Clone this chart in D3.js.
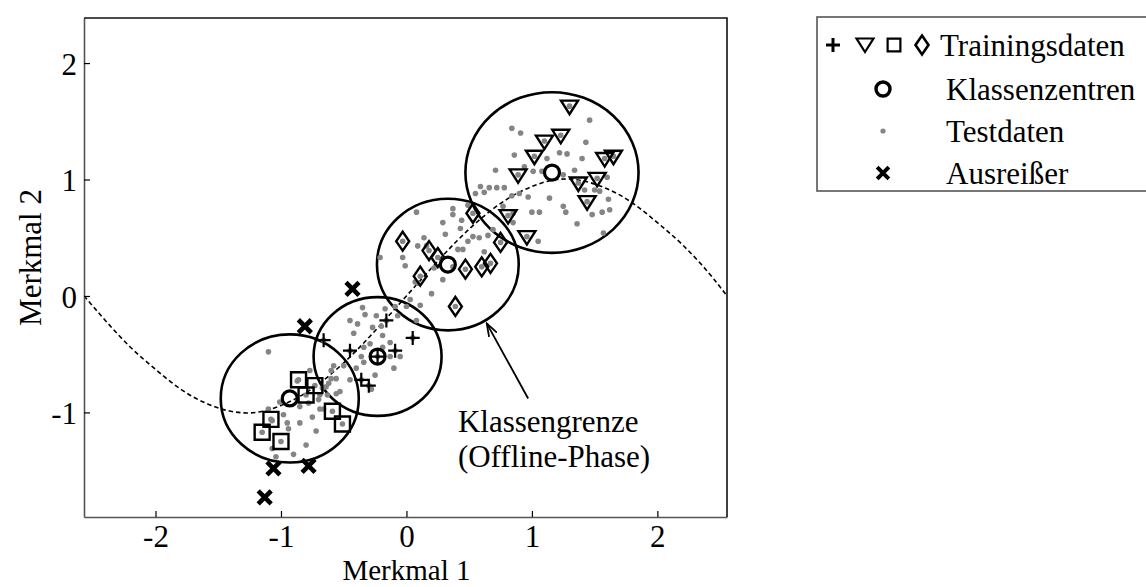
<!DOCTYPE html>
<html>
<head>
<meta charset="utf-8">
<script src="https://cdn.jsdelivr.net/npm/d3@7"></script>
<style>
  body { margin: 0; background: #fff; }
  svg { display: block; font-family: "Liberation Serif", "Times New Roman", serif; }
</style>
</head>
<body>
<svg id="chart" width="1146" height="587"></svg>
<script>
const xTicks = [-2, -1, 0, 1, 2];
const yTicks = [-1, 0, 1, 2];
const xLabel = "Merkmal 1";
const yLabel = "Merkmal 2";
const legendLabels = ["Trainingsdaten", "Klassenzentren", "Testdaten", "Ausreißer"];
const annotation = ["Klassengrenze", "(Offline-Phase)"];

// class boundary (offline phase)
const boundary = [
  [-2.57, 0], [-2.4, -0.21], [-2.2, -0.44], [-2.0, -0.63], [-1.8, -0.80], [-1.6, -0.92],
  [-1.4, -0.99], [-1.2, -1.00], [-1.0, -0.94], [-0.8, -0.83], [-0.6, -0.67], [-0.4, -0.47],
  [-0.2, -0.24], [0, 0], [0.2, 0.24], [0.4, 0.47], [0.6, 0.67], [0.8, 0.83], [1.0, 0.94],
  [1.2, 1.00], [1.4, 0.99], [1.6, 0.92], [1.8, 0.80], [2.0, 0.63], [2.2, 0.44], [2.4, 0.21], [2.555, 0]
];

const centers = [[-0.93, -0.88], [-0.23, -0.52], [0.33, 0.27], [1.16, 1.06]];
const radii = [0.55, 0.51, 0.565, 0.69];

const squares = [[-0.86, -0.72], [-0.73, -0.77], [-0.80, -0.85], [-0.59, -0.99], [-0.51, -1.10],
  [-1.08, -1.06], [-1.15, -1.17], [-1.00, -1.25]];
const crosses = [[-0.16, -0.21], [0.05, -0.36], [-0.66, -0.38], [-0.45, -0.47], [-0.09, -0.47],
  [-0.36, -0.72], [-0.30, -0.77], [-0.23, -0.52]];
const diamonds = [[-0.03, 0.47], [0.53, 0.71], [0.75, 0.46], [0.18, 0.39], [0.25, 0.33], [0.11, 0.17],
  [0.47, 0.23], [0.60, 0.25], [0.67, 0.28], [0.39, -0.09]];
const triangles = [[1.30, 1.63], [1.23, 1.38], [1.10, 1.33], [1.02, 1.20], [0.89, 1.04], [1.58, 1.18],
  [1.65, 1.20], [1.37, 0.97], [1.52, 1.01], [1.44, 0.81], [0.81, 0.69], [0.96, 0.51]];
const outliers = [[-0.81, -0.26], [-0.43, 0.06], [-1.06, -1.48], [-0.78, -1.46], [-1.13, -1.73]];

const testData = [
  [-1.10, -0.48], [-0.77, -0.64], [-0.87, -0.73], [-1.01, -0.91], [-0.98, -1.02], [-0.95, -1.09],
  [-0.94, -1.14], [-0.85, -1.09], [-0.75, -1.04], [-0.69, -0.97], [-0.70, -0.89], [-0.62, -0.75],
  [-0.60, -0.71], [-0.56, -0.71], [-0.56, -0.84], [-0.53, -0.82], [-0.60, -0.64], [-0.66, -0.97],
  [-1.10, -0.97], [-1.07, -1.31], [-1.04, -1.38], [-0.90, -1.36], [-0.80, -1.28], [-1.07, -1.07],
  [-0.85, -0.95], [-0.78, -0.92], [-0.63, -0.85], [-0.67, -0.79], [-0.58, -0.60], [-0.72, -1.16],
  [-0.35, -0.10], [-0.17, -0.11], [-0.45, -0.21], [-0.39, -0.24], [-0.33, -0.16], [-0.27, -0.27],
  [-0.42, -0.32], [-0.19, -0.34], [-0.13, -0.40], [-0.24, -0.17], [-0.20, -0.26], [-0.07, -0.17],
  [0.00, -0.09], [-0.29, -0.41], [-0.34, -0.44], [-0.19, -0.44], [-0.36, -0.52], [-0.34, -0.57],
  [-0.13, -0.52], [-0.05, -0.52], [-0.25, -0.68], [-0.64, -0.78], [-0.69, -0.85], [-0.50, -0.60],
  [-0.45, -0.72], [-0.40, -0.62], [-0.10, -0.62], [-0.28, -0.80],
  [0.09, 0.11], [0.20, 0.02], [0.11, -0.08], [-0.09, -0.09], [0.08, -0.21],
  [0.08, 0.72], [0.37, 0.75], [0.37, 0.70], [0.44, 0.65], [0.29, 0.63], [0.43, 0.58], [0.31, 0.53],
  [0.53, 0.51], [0.49, 0.47], [0.58, 0.50], [0.65, 0.52], [0.14, 0.50], [0.09, 0.43], [0.16, 0.43],
  [0.41, 0.40], [0.45, 0.40], [-0.21, 0.33], [-0.03, 0.33], [-0.01, 0.26], [0.37, 0.25], [0.07, 0.12],
  [0.29, 0.14], [0.03, -0.03], [0.22, 0.24], [0.62, 0.38],
  [0.84, 1.44], [0.91, 1.40], [1.46, 1.51], [1.43, 1.32], [0.86, 1.21], [1.12, 1.18], [1.22, 1.23],
  [1.28, 1.22], [1.40, 1.18], [0.94, 1.11], [1.01, 1.07], [1.08, 1.07], [0.71, 1.08], [1.34, 1.08],
  [1.25, 1.04], [1.60, 1.02], [0.59, 0.94], [0.66, 0.93], [0.72, 0.93], [0.78, 0.93], [0.55, 0.88],
  [0.62, 0.89], [0.90, 0.88], [0.97, 0.85], [0.84, 0.86], [1.14, 0.84], [1.50, 0.91], [1.42, 0.91],
  [1.54, 0.90], [1.25, 0.77], [1.27, 0.72], [0.77, 0.77], [1.00, 0.72], [1.06, 0.72], [1.48, 0.70],
  [1.56, 0.72], [1.62, 0.74], [1.61, 0.83], [1.36, 0.62], [1.05, 0.47], [0.49, 0.78], [0.69, 0.57],
  [1.57, 0.54], [0.85, 0.71], [0.85, 0.63]
];

const arrowFrom = [0.97, -0.88];
const arrowTo = [0.64, -0.235];
const annotationAt = [0.41, -1.17];

const margin = { left: 84, top: 18, right: 727, bottom: 517 };
const fontSize = 31;
const gray = "#858585";

const svg = d3.select("#chart");

const xScale = d3.scaleLinear()
                 .domain([-2.57, 2.555])
                 .range([margin.left, margin.right]);
const yScale = d3.scaleLinear()
                 .domain([-1.898, 2.387])
                 .range([margin.bottom, margin.top]);

const symbols = {
  square: "M-7.5,-7.5H7.5V7.5H-7.5Z",
  triangle: "M-8.5,-5.5H8.5L0,8Z",
  diamond: "M0,-9.5L6.5,0L0,9.5L-6.5,0Z",
  plus: "M-7,0H7M0,-7V7",
  cross: "M-6.5,-6.5L6.5,6.5M6.5,-6.5L-6.5,6.5"
};

svg.append("defs").append("clipPath").attr("id", "plot-clip")
   .append("rect")
   .attr("x", margin.left).attr("y", margin.top)
   .attr("width", margin.right - margin.left)
   .attr("height", margin.bottom - margin.top);

svg.select("defs").append("marker")
   .attr("id", "arrow")
   .attr("viewBox", "0 0 14 10")
   .attr("refX", 13).attr("refY", 5)
   .attr("markerWidth", 14).attr("markerHeight", 10)
   .attr("markerUnits", "userSpaceOnUse")
   .attr("orient", "auto")
   .append("path")
   .attr("d", "M0,0.5L13,5L0,9.5")
   .attr("fill", "none")
   .attr("stroke", "#000")
   .attr("stroke-width", 1.8);

const plot = svg.append("g").attr("clip-path", "url(#plot-clip)");

const line = d3.line()
               .x(d => xScale(d[0]))
               .y(d => yScale(d[1]))
               .curve(d3.curveNatural);

plot.append("path")
    .attr("d", line(boundary))
    .attr("fill", "none")
    .attr("stroke", "#000")
    .attr("stroke-width", 1.6)
    .attr("stroke-dasharray", "4.5,3");

plot.selectAll("ellipse.zone")
    .data(centers)
    .enter()
    .append("ellipse")
      .attr("class", "zone")
      .attr("cx", d => xScale(d[0]))
      .attr("cy", d => yScale(d[1]))
      .attr("rx", (d, i) => xScale(d[0] + radii[i]) - xScale(d[0]))
      .attr("ry", (d, i) => yScale(d[1]) - yScale(d[1] + radii[i]))
      .attr("fill", "none")
      .attr("stroke", "#000")
      .attr("stroke-width", 2.6);

const allTraining = squares.concat(crosses, diamonds, triangles);

plot.selectAll("circle.test")
    .data(testData.concat(allTraining))
    .enter()
    .append("circle")
      .attr("class", "test")
      .attr("cx", d => xScale(d[0]))
      .attr("cy", d => yScale(d[1]))
      .attr("r", 2.8)
      .attr("fill", gray);

const drawMarkers = (data, shape, width) => {
  plot.append("g")
      .selectAll("path")
      .data(data)
      .enter()
      .append("path")
        .attr("transform", d => `translate(${xScale(d[0])},${yScale(d[1])})`)
        .attr("d", symbols[shape])
        .attr("fill", "none")
        .attr("stroke", "#000")
        .attr("stroke-width", width);
};

drawMarkers(squares, "square", 2.4);
drawMarkers(crosses, "plus", 2.2);
drawMarkers(diamonds, "diamond", 2.4);
drawMarkers(triangles, "triangle", 2.4);
drawMarkers(outliers, "cross", 4.6);

plot.selectAll("circle.center")
    .data(centers)
    .enter()
    .append("circle")
      .attr("class", "center")
      .attr("cx", d => xScale(d[0]))
      .attr("cy", d => yScale(d[1]))
      .attr("r", 7.5)
      .attr("fill", "none")
      .attr("stroke", "#000")
      .attr("stroke-width", 3.2);

// annotation
svg.append("line")
   .attr("x1", xScale(arrowFrom[0])).attr("y1", yScale(arrowFrom[1]))
   .attr("x2", xScale(arrowTo[0])).attr("y2", yScale(arrowTo[1]))
   .attr("stroke", "#000")
   .attr("stroke-width", 1.8)
   .attr("marker-end", "url(#arrow)");

svg.append("g")
   .selectAll("text")
   .data(annotation)
   .enter()
   .append("text")
     .attr("x", xScale(annotationAt[0]))
     .attr("y", (d, i) => yScale(annotationAt[1]) + i * 35)
     .attr("font-size", fontSize)
     .text(d => d);

// axes
const xAxis = d3.axisBottom(xScale)
                .tickValues(xTicks)
                .tickSize(-6)
                .tickSizeOuter(0)
                .tickFormat(d => String(d));
const yAxis = d3.axisLeft(yScale)
                .tickValues(yTicks)
                .tickSize(-6)
                .tickSizeOuter(0)
                .tickPadding(7)
                .tickFormat(d => String(d));

svg.append("g")
   .attr("transform", `translate(0, ${margin.bottom})`)
   .call(xAxis)
   .attr("font-family", null)
   .attr("font-size", fontSize)
   .call(g => g.select(".domain").attr("stroke", "#555").attr("stroke-width", 1.6))
   .call(g => g.selectAll(".tick line").attr("stroke", "#000").attr("stroke-width", 1.2))
   .call(g => g.selectAll("text").attr("y", 30).attr("dy", null).attr("fill", "#000"));

svg.append("g")
   .attr("transform", `translate(${margin.left}, 0)`)
   .call(yAxis)
   .attr("font-family", null)
   .attr("font-size", fontSize)
   .call(g => g.select(".domain").attr("stroke", "#555").attr("stroke-width", 1.6))
   .call(g => g.selectAll(".tick line").attr("stroke", "#000").attr("stroke-width", 1.2))
   .call(g => g.selectAll("text").attr("dy", "0.36em").attr("fill", "#000"));

svg.append("path")
   .attr("d", `M${margin.left},${margin.top}H${margin.right}V${margin.bottom}`)
   .attr("fill", "none")
   .attr("stroke", "#111")
   .attr("stroke-width", 1.6);

svg.append("text")
   .attr("x", xScale(0))
   .attr("y", 580)
   .attr("text-anchor", "middle")
   .attr("font-size", 29)
   .text(xLabel);

svg.append("text")
   .attr("transform", `translate(41, ${(margin.top + margin.bottom) / 2 - 10}) rotate(-90)`)
   .attr("text-anchor", "middle")
   .attr("font-size", fontSize)
   .text(yLabel);

// legend
const legend = svg.append("g");
legend.append("rect")
      .attr("x", 817).attr("y", 17)
      .attr("width", 360).attr("height", 174)
      .attr("fill", "#fff")
      .attr("stroke", "#555")
      .attr("stroke-width", 1.6);

const rowY = [45, 89, 131, 173];

legend.selectAll("text")
      .data(legendLabels)
      .enter()
      .append("text")
        .attr("x", (d, i) => i === 0 ? 940 : 946)
        .attr("y", (d, i) => rowY[i] + 11)
        .attr("font-size", fontSize)
        .text(d => d);

const legendShapes = [
  { shape: "plus", x: 833, y: 45, w: 3 },
  { shape: "triangle", x: 865, y: 44, w: 2.2 },
  { shape: "square", x: 894, y: 45, w: 2.6, s: 0.85 },
  { shape: "diamond", x: 922, y: 45, w: 2.6 },
  { shape: "cross", x: 883, y: 173, w: 4.4, s: 0.9 }
];

legend.selectAll("path.sym")
      .data(legendShapes)
      .enter()
      .append("path")
        .attr("class", "sym")
        .attr("transform", d => `translate(${d.x},${d.y}) scale(${d.s || 1})`)
        .attr("d", d => symbols[d.shape])
        .attr("fill", "none")
        .attr("stroke", "#000")
        .attr("stroke-width", d => d.w);

legend.append("circle")
      .attr("cx", 883).attr("cy", rowY[1])
      .attr("r", 7)
      .attr("fill", "none")
      .attr("stroke", "#000")
      .attr("stroke-width", 3.4);

legend.append("circle")
      .attr("cx", 883).attr("cy", rowY[2])
      .attr("r", 2.6)
      .attr("fill", gray);
</script>
</body>
</html>
